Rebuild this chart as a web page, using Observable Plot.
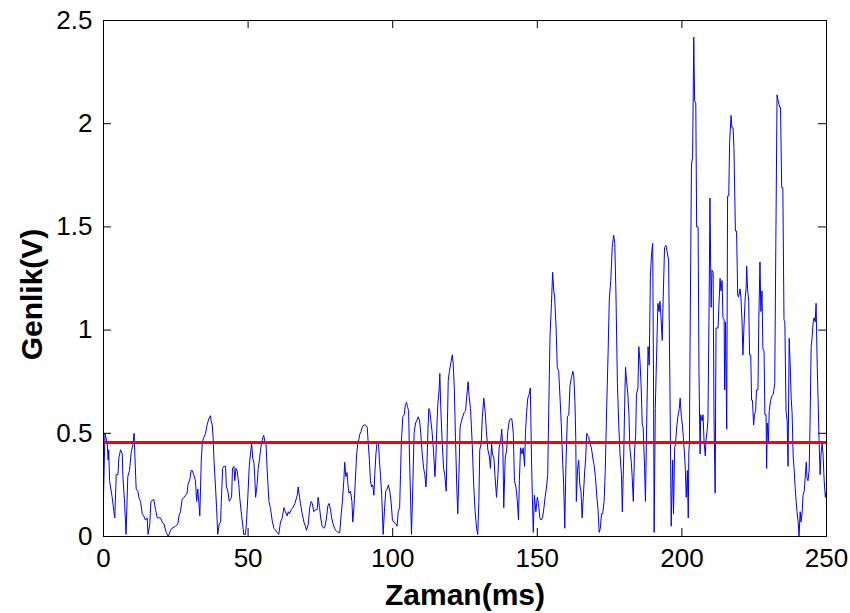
<!DOCTYPE html>
<html><head><meta charset="utf-8">
<script src="https://cdn.jsdelivr.net/npm/d3@7"></script>
<script src="https://cdn.jsdelivr.net/npm/@observablehq/plot@0.6"></script>
<style>html,body{margin:0;padding:0;background:#fff;}</style>
</head><body><div id="chart"></div>
<script>
const time = [0.0,0.5,1.3,1.6,1.8,2.1,3.0,3.6,3.9,4.4,5.0,5.3,5.9,6.5,6.7,7.3,7.8,8.4,9.0,9.6,10.1,10.6,10.8,11.3,11.9,12.2,12.8,13.4,13.9,14.5,15.1,15.4,16.0,16.4,17.4,18.0,18.6,19.7,20.3,20.9,21.7,22.4,23.2,23.7,24.9,25.7,26.1,26.6,27.2,27.8,28.4,28.9,29.2,29.9,30.3,30.7,31.2,31.8,32.2,32.6,33.0,33.3,33.8,34.2,34.7,35.3,35.8,36.4,37.0,37.2,37.6,37.9,38.2,38.7,39.1,39.5,40.0,40.5,40.7,41.2,41.6,42.2,42.5,43.0,43.5,43.9,44.3,44.6,45.1,45.4,45.8,46.2,46.8,47.1,47.6,48.1,48.5,49.1,49.4,49.9,50.4,50.8,51.2,51.4,51.6,52.0,52.3,52.6,53.1,53.5,53.9,54.3,54.6,55.1,55.4,55.8,56.2,56.6,57.2,57.7,58.3,58.9,59.5,60.0,60.6,61.2,61.8,62.4,62.9,63.5,63.9,64.3,64.9,65.5,66.2,66.6,67.0,67.3,67.8,68.1,68.7,69.3,69.8,70.2,70.8,71.3,71.8,72.2,72.7,73.3,73.9,74.2,74.7,75.1,75.6,76.2,76.6,77.1,77.6,78.0,78.5,78.9,79.4,79.9,80.3,81.0,81.7,82.2,82.6,83.1,83.4,83.8,84.2,84.6,84.9,85.4,85.9,86.2,86.6,87.0,87.5,87.9,88.3,88.6,89.1,89.5,90.0,90.6,91.2,91.5,91.9,92.3,92.7,93.1,93.5,93.8,94.2,94.6,95.1,95.4,95.8,96.2,96.7,97.2,97.6,98.1,98.5,99.0,99.5,99.9,100.4,101.1,101.5,101.9,102.4,102.7,103.0,103.5,104.0,104.4,104.8,105.1,105.5,105.8,106.2,106.5,107.0,107.4,107.9,108.3,108.8,109.3,109.7,110.2,110.7,111.1,111.5,111.8,112.2,112.5,112.8,113.2,113.6,114.1,114.6,114.9,115.3,115.6,116.0,116.3,116.6,117.1,117.6,118.0,118.5,118.8,119.2,119.6,120.1,120.6,120.9,121.3,121.7,122.2,122.5,122.9,123.3,123.8,124.2,124.7,125.2,125.6,126.1,126.4,126.9,127.5,128.0,128.5,129.0,129.4,129.8,130.1,130.6,131.0,131.5,132.0,132.4,132.9,133.4,133.8,134.2,134.5,135.0,135.4,135.9,136.4,136.8,137.3,137.7,138.1,138.4,138.9,139.4,139.8,140.3,140.7,141.2,141.7,142.1,142.6,143.0,143.5,143.8,144.2,144.7,145.1,145.6,145.9,146.3,146.7,147.2,147.6,148.0,148.3,148.6,149.0,149.5,150.0,150.4,150.9,151.3,151.8,152.3,152.7,153.2,153.6,154.0,154.4,154.9,155.3,155.7,156.0,156.5,156.9,157.4,157.9,158.3,158.8,159.1,159.5,159.9,160.4,160.9,161.3,161.8,162.3,162.6,163.0,163.3,163.5,163.9,164.3,164.7,165.1,165.5,165.9,166.4,166.7,167.1,167.4,167.8,168.2,168.7,169.2,169.6,170.1,170.6,171.0,171.4,171.8,172.2,172.6,173.1,173.5,174.0,174.5,174.9,175.4,175.9,176.4,176.8,177.2,177.7,178.2,178.6,179.1,179.4,179.9,180.2,180.5,180.9,181.3,181.7,182.0,182.5,182.8,183.2,183.6,184.0,184.3,184.8,185.1,185.5,185.9,186.3,186.6,187.1,187.4,187.8,188.3,188.7,189.1,189.5,189.9,190.2,190.4,190.8,191.2,191.7,192.1,192.4,192.7,193.2,193.5,194.0,194.5,194.9,195.4,195.9,196.3,196.8,197.1,197.5,197.8,198.2,198.6,199.1,199.4,199.8,200.1,200.5,200.9,201.2,201.5,201.9,202.2,202.4,202.6,202.8,203.3,203.7,204.1,204.4,204.8,205.1,205.6,205.9,206.3,206.5,207.0,207.3,207.7,208.1,208.3,208.7,209.0,209.4,209.7,210.1,210.4,210.8,211.1,211.5,211.8,212.2,212.5,212.8,213.2,213.5,213.9,214.2,214.6,214.8,215.1,215.5,215.8,216.2,216.5,217.0,217.3,217.7,218.0,218.5,218.9,219.3,219.6,220.1,220.4,220.8,221.1,221.5,221.9,222.2,222.4,222.7,223.1,223.4,223.8,224.1,224.4,224.8,225.1,225.5,225.8,226.3,226.6,227.0,227.3,227.7,228.0,228.4,228.7,229.1,229.3,229.5,229.9,230.2,230.7,231.1,231.6,232.1,232.5,232.9,233.3,233.8,234.1,234.5,234.9,235.3,235.6,236.0,236.4,236.7,237.1,237.4,237.8,238.1,238.5,238.8,239.1,239.5,239.8,240.2,240.5,240.9,241.2,241.6,241.9,242.3,242.6,243.0,243.3,243.6,244.0,244.3,244.7,245.0,245.4,245.7,246.1,246.4,246.8,247.1,247.4,247.8,248.1,248.5,248.8,249.2,249.6,250.0];
const amplitude = [0.19,0.50,0.45,0.37,0.42,0.27,0.19,0.12,0.09,0.30,0.30,0.38,0.42,0.40,0.29,0.16,0.01,0.29,0.32,0.41,0.44,0.50,0.41,0.23,0.22,0.19,0.17,0.11,0.10,0.08,0.09,0.01,0.06,0.17,0.18,0.13,0.09,0.09,0.07,0.06,0.02,0.00,0.03,0.04,0.05,0.06,0.10,0.12,0.18,0.19,0.20,0.21,0.25,0.28,0.32,0.32,0.30,0.27,0.17,0.23,0.16,0.10,0.37,0.46,0.48,0.50,0.54,0.57,0.585,0.56,0.54,0.48,0.37,0.25,0.14,0.01,0.06,0.07,0.16,0.33,0.34,0.34,0.24,0.22,0.17,0.18,0.19,0.33,0.34,0.27,0.33,0.32,0.25,0.19,0.12,0.06,0.01,0.01,0.06,0.19,0.34,0.40,0.45,0.42,0.38,0.36,0.29,0.19,0.25,0.33,0.37,0.42,0.45,0.48,0.49,0.46,0.45,0.32,0.17,0.14,0.08,0.04,0.03,0.02,0.01,0.07,0.09,0.14,0.12,0.10,0.12,0.11,0.13,0.14,0.16,0.18,0.20,0.24,0.19,0.16,0.11,0.07,0.05,0.03,0.06,0.14,0.17,0.16,0.12,0.13,0.13,0.19,0.14,0.09,0.05,0.04,0.05,0.09,0.15,0.16,0.13,0.09,0.06,0.04,0.03,0.02,0.02,0.11,0.17,0.27,0.36,0.29,0.31,0.24,0.21,0.22,0.17,0.07,0.14,0.25,0.39,0.45,0.47,0.495,0.51,0.53,0.54,0.54,0.53,0.46,0.38,0.27,0.24,0.25,0.20,0.30,0.40,0.46,0.45,0.37,0.29,0.20,0.01,0.14,0.22,0.23,0.25,0.22,0.16,0.08,0.07,0.06,0.05,0.12,0.14,0.30,0.46,0.58,0.59,0.64,0.65,0.63,0.61,0.39,0.17,0.01,0.27,0.50,0.55,0.56,0.58,0.56,0.50,0.40,0.33,0.30,0.24,0.33,0.52,0.62,0.61,0.56,0.51,0.42,0.29,0.37,0.54,0.64,0.70,0.79,0.63,0.46,0.33,0.30,0.22,0.46,0.755,0.80,0.84,0.88,0.84,0.72,0.48,0.22,0.11,0.30,0.53,0.56,0.58,0.60,0.61,0.68,0.75,0.68,0.62,0.45,0.25,0.12,0.04,0.01,0.17,0.42,0.45,0.58,0.67,0.60,0.51,0.42,0.39,0.33,0.45,0.40,0.38,0.29,0.19,0.30,0.43,0.46,0.52,0.42,0.14,0.38,0.42,0.51,0.56,0.57,0.57,0.50,0.27,0.24,0.19,0.08,0.27,0.43,0.40,0.43,0.34,0.50,0.60,0.67,0.69,0.72,0.37,0.19,0.02,0.20,0.12,0.19,0.16,0.09,0.08,0.09,0.14,0.19,0.24,0.30,0.65,0.97,1.13,1.28,1.19,1.16,1.01,0.82,0.80,0.66,0.54,0.35,0.26,0.04,0.35,0.58,0.59,0.73,0.77,0.80,0.78,0.66,0.48,0.17,0.32,0.37,0.25,0.22,0.09,0.19,0.32,0.37,0.50,0.49,0.48,0.45,0.43,0.38,0.35,0.29,0.19,0.13,0.02,0.04,0.11,0.11,0.17,0.32,0.63,0.90,1.15,1.24,1.40,1.46,1.42,1.17,0.74,0.53,0.40,0.30,0.12,0.40,0.63,0.82,0.75,0.69,0.59,0.43,0.36,0.29,0.17,0.41,0.49,0.69,0.72,0.92,0.85,0.73,0.54,0.53,0.33,0.17,0.53,0.92,0.83,1.26,1.37,1.42,0.72,0.02,0.62,0.85,1.13,1.09,1.14,1.08,0.95,1.14,1.40,1.41,1.38,1.34,0.67,0.05,0.37,0.11,0.43,0.45,0.53,0.58,0.62,0.67,0.58,0.55,0.48,0.40,0.32,0.19,0.32,0.09,0.41,0.45,0.89,1.80,1.84,2.42,2.11,2.10,1.50,1.50,0.80,0.40,0.59,0.56,0.59,0.45,0.39,0.46,0.51,0.56,1.11,1.64,1.11,1.29,1.28,0.58,0.21,1.01,1.01,1.01,1.12,1.25,1.19,1.24,1.06,1.05,0.71,1.04,0.52,1.65,1.65,1.91,2.04,1.98,1.98,1.88,1.48,1.48,1.17,1.16,1.20,1.16,1.04,0.88,1.03,1.16,1.20,1.31,1.20,1.14,0.88,0.88,0.66,0.66,0.54,0.59,0.61,0.71,0.71,1.05,1.33,1.09,1.19,0.91,0.90,0.59,0.59,0.33,0.55,0.46,0.61,0.66,0.68,0.69,0.74,1.45,2.14,2.11,2.08,2.08,1.69,1.69,1.05,1.04,0.61,0.56,0.34,0.96,0.85,0.67,0.60,0.38,0.33,0.25,0.17,0.12,0.07,0.00,0.12,0.07,0.12,0.20,0.22,0.28,0.36,0.28,0.27,0.32,0.54,0.92,0.96,1.04,1.06,1.04,1.13,0.82,0.66,0.48,0.30,0.40,0.45,0.40,0.27,0.19,0.22];
const threshold = 0.456;
const xTicks = [0, 50, 100, 150, 200, 250];
const yTicks = [0, 0.5, 1, 1.5, 2, 2.5];
const yTickLabels = ["0", "0.5", "1", "1.5", "2", "2.5"];
const xLabel = "Zaman(ms)";
const yLabel = "Genlik(V)";

const W = 850, H = 613, mL = 103, mR = 24, mT = 20, mB = 77;
const plotW = W - mL - mR, plotH = H - mT - mB;
const tickLen = 8;
const data = time.map((t, i) => ({t, v: amplitude[i]}));

const chart = Plot.plot({
  width: W, height: H,
  marginLeft: mL, marginRight: mR, marginTop: mT, marginBottom: mB,
  style: {fontFamily: "'Liberation Sans', Arial, sans-serif", fontSize: "26px", background: "#fff", color: "#000"},
  x: {domain: [0, 250]},
  y: {domain: [0, 2.5]},
  marks: [
    Plot.line(data, {x: "t", y: "v", stroke: "#0000ff", strokeWidth: 1}),
    Plot.ruleY([threshold], {stroke: "#ff0000", strokeWidth: 3}),
    Plot.frame({stroke: "#000", strokeWidth: 1}),
    Plot.tickX(xTicks, {x: d => d, insetTop: plotH - tickLen, stroke: "#000"}),
    Plot.tickX(xTicks, {x: d => d, insetBottom: plotH - tickLen, stroke: "#000"}),
    Plot.tickY(yTicks, {y: d => d, insetRight: plotW - tickLen, stroke: "#000"}),
    Plot.tickY(yTicks, {y: d => d, insetLeft: plotW - tickLen, stroke: "#000"}),
    Plot.axisX({ticks: xTicks, tickSize: 0, tickPadding: 12, label: null, fontSize: 26}),
    Plot.axisY({ticks: yTicks, tickFormat: d => yTickLabels[yTicks.indexOf(d)], tickSize: 0, tickPadding: 11, label: null, fontSize: 26}),
    Plot.text([xLabel], {frameAnchor: "bottom", dy: 59, fontWeight: "bold", fontSize: 30, lineAnchor: "middle"}),
    Plot.text([yLabel], {frameAnchor: "left", dx: -71, dy: 16, rotate: -90, textAnchor: "middle", lineAnchor: "middle", fontWeight: "bold", fontSize: 30})
  ]
});
document.getElementById("chart").appendChild(chart);
</script>
</body></html>
